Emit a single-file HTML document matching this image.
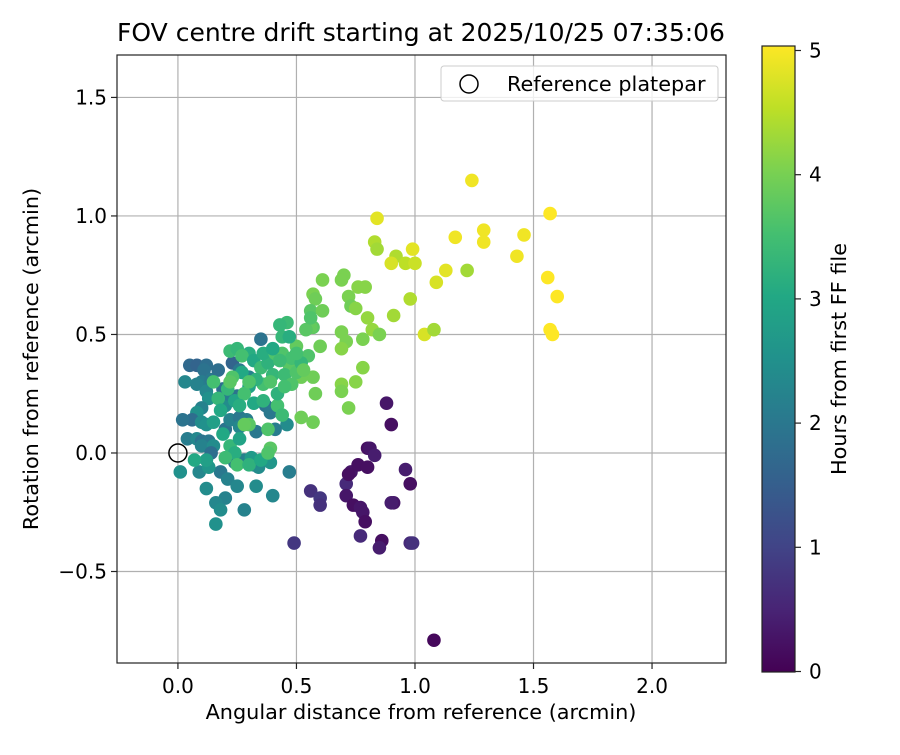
<!DOCTYPE html>
<html><head><meta charset="utf-8"><style>
body{margin:0;background:#fff}
svg text{font-family:"DejaVu Sans","Liberation Sans",sans-serif;fill:#000}
</style></head><body>
<svg id="chart" width="900" height="750" xmlns="http://www.w3.org/2000/svg">
<defs><linearGradient id="vir" x1="0" y1="1" x2="0" y2="0">
<stop offset="0" stop-color="#440154"/><stop offset="0.1" stop-color="#482475"/><stop offset="0.2" stop-color="#414487"/><stop offset="0.3" stop-color="#355f8d"/><stop offset="0.4" stop-color="#2a788e"/><stop offset="0.5" stop-color="#21918c"/><stop offset="0.6" stop-color="#22a884"/><stop offset="0.7" stop-color="#44bf70"/><stop offset="0.8" stop-color="#7ad151"/><stop offset="0.9" stop-color="#bddf26"/><stop offset="1" stop-color="#fde725"/></linearGradient></defs>
<text x="421" y="41" font-size="25" text-anchor="middle">FOV centre drift starting at 2025/10/25 07:35:06</text>
<g id="grid"></g>
<g id="points"></g>
<rect x="117" y="55" width="609" height="608" fill="none" stroke="#222" stroke-width="1.2"/>
<g id="ticks"></g>
<text x="421" y="719" font-size="20.8" text-anchor="middle">Angular distance from reference (arcmin)</text>
<text transform="translate(38,359) rotate(-90)" font-size="20.8" text-anchor="middle">Rotation from reference (arcmin)</text>
<g>
<rect x="441" y="66" width="277" height="35" rx="3" fill="#fff" fill-opacity="0.8" stroke="#ccc"/>
<circle cx="469" cy="84" r="9" fill="none" stroke="#000" stroke-width="1.5"/>
<text x="507" y="91" font-size="20.8">Reference platepar</text>
</g>
<rect x="762" y="46" width="33" height="626" fill="url(#vir)" stroke="#222" stroke-width="1.2"/>
<g id="cbticks"></g>
<text transform="translate(846,359) rotate(-90)" font-size="20.8" text-anchor="middle">Hours from first FF file</text>
</svg>
<script>
const xTicks=[0,0.5,1.0,1.5,2.0];
const xTickLabels=["0.0","0.5","1.0","1.5","2.0"];
const yTicks=[-0.5,0,0.5,1.0,1.5];
const yTickLabels=["\u22120.5","0.0","0.5","1.0","1.5"];
const cbTicks=[0,1,2,3,4,5];
const refX=[0],refY=[0];
const ptX=[1.24,1.57,0.84,1.29,1.46,1.17,1.29,0.83,0.84,0.99,0.92,0.96,0.90,1.00,1.43,1.13,1.22,1.56,1.09,1.60,0.98,1.57,1.58,1.04,1.08,0.91,
0.70,0.69,0.61,0.57,0.58,0.76,0.79,0.72,0.73,0.75,0.80,0.56,0.61,0.82,0.69,0.78,0.85,0.71,0.69,0.57,0.56,0.54,0.60,0.55,0.50,0.78,0.69,0.69,0.75,0.57,0.58,0.72,0.52,0.57,0.52,
0.05,0.08,0.12,0.11,0.03,0.10,0.08,0.14,0.12,0.13,0.10,0.08,0.06,0.02,0.10,0.12,0.04,0.08,0.10,0.13,0.10,0.15,0.14,0.20,0.22,0.26,0.20,0.21,0.19,0.17,0.23,0.26,0.30,0.25,0.29,0.26,0.33,0.32,0.28,0.24,0.18,0.21,0.01,0.09,0.13,0.12,0.20,0.16,0.18,0.25,0.28,0.16,0.33,0.40,0.47,0.39,0.34,0.31,0.46,0.41,0.37,0.39,
0.22,0.25,0.30,0.27,0.32,0.35,0.38,0.40,0.36,0.33,0.30,0.27,0.23,0.21,0.24,0.28,0.32,0.36,0.42,0.44,0.38,0.30,0.26,0.17,0.15,0.18,0.15,0.19,0.22,0.26,0.24,0.20,0.25,0.30,0.35,0.39,0.38,0.36,0.41,0.44,0.47,0.46,0.43,0.44,0.47,0.48,0.45,0.50,0.42,0.48,0.45,0.52,0.39,0.35,0.40,0.43,0.56,0.53,0.50,0.12,0.07,0.28,0.22,0.30,
0.49,0.56,0.60,0.60,0.73,0.76,0.71,0.71,0.74,0.77,0.78,0.79,0.77,0.80,0.81,0.83,0.80,0.88,0.90,0.96,0.98,0.91,0.90,0.86,0.85,0.98,0.99,1.08,0.72];
const ptY=[1.15,1.01,0.99,0.94,0.92,0.91,0.89,0.89,0.86,0.86,0.83,0.80,0.80,0.80,0.83,0.77,0.77,0.74,0.72,0.66,0.65,0.52,0.50,0.50,0.52,0.58,
0.75,0.73,0.73,0.67,0.65,0.70,0.70,0.66,0.62,0.61,0.57,0.60,0.60,0.52,0.51,0.48,0.50,0.47,0.44,0.53,0.53,0.52,0.45,0.41,0.45,0.36,0.29,0.26,0.30,0.32,0.25,0.19,0.32,0.13,0.15,
0.37,0.37,0.37,0.35,0.30,0.30,0.29,0.31,0.26,0.23,0.19,0.17,0.14,0.14,0.13,0.12,0.06,0.06,0.05,0.05,0.03,0.03,0.00,0.10,0.14,0.15,0.20,0.25,0.27,0.35,0.38,0.35,0.32,0.24,0.14,0.11,0.09,-0.05,-0.03,-0.04,-0.08,-0.11,-0.08,-0.08,-0.06,-0.15,-0.19,-0.21,-0.24,-0.14,-0.24,-0.30,-0.14,-0.18,-0.08,-0.04,-0.06,-0.02,0.12,0.10,0.20,0.17,
0.43,0.44,0.42,0.41,0.39,0.36,0.38,0.33,0.29,0.31,0.28,0.34,0.32,0.27,0.22,0.25,0.21,0.22,0.20,0.16,0.10,0.12,0.20,0.23,0.30,0.18,0.13,0.08,0.03,0.06,0.00,-0.02,-0.05,-0.05,-0.03,0.02,0.00,0.42,0.42,0.49,0.49,0.55,0.54,0.42,0.37,0.40,0.33,0.34,0.25,0.29,0.28,0.38,0.30,0.48,0.44,0.39,0.57,0.35,0.42,-0.03,-0.03,0.12,0.30,0.30,
-0.38,-0.16,-0.19,-0.22,-0.08,-0.05,-0.13,-0.18,-0.22,-0.23,-0.25,-0.29,-0.35,0.02,0.02,-0.01,-0.06,0.21,0.12,-0.07,-0.13,-0.21,-0.21,-0.37,-0.40,-0.38,-0.38,-0.79,-0.09];
const ptHours=[4.9,5,4.8,4.9,4.9,4.9,4.9,4.4,4.3,4.8,4.4,4.5,4.7,4.6,4.9,4.8,4.3,5,4.7,5,4.4,5,5,4.7,4.3,4.3,
4.0,4.0,4.0,4.0,3.9,4.1,4.1,4.0,3.9,4.1,4.2,3.7,3.9,4.2,4.0,4.0,4.0,4.0,4.1,3.7,3.8,3.7,3.9,3.6,3.8,4.1,4.1,4.0,4.1,3.9,3.9,4.0,3.9,3.9,3.9,
1.7,1.6,1.8,1.9,2.3,2.1,2.2,2.0,2.3,2.5,2.2,2.5,1.8,1.9,2.4,2.5,2.1,2.3,1.9,2.0,2.2,2.4,1.8,1.9,2.2,2.0,2.4,2.1,1.8,1.8,1.6,2.0,2.2,1.9,2.1,2.3,2.0,2.1,2.2,1.9,2.0,2.2,2.5,2.3,2.6,2.4,2.2,2.3,2.4,2.3,2.2,2.5,2.4,2.3,2.1,2.6,2.4,2.7,2.4,2.1,1.9,2.0,
3.4,3.3,3.1,3.5,3.0,3.4,3.2,3.3,3.5,3.2,2.9,3.0,3.6,3.3,2.9,3.5,3.0,3.2,3.5,3.4,3.6,3.7,3.1,3.3,3.5,3.0,2.8,3.0,3.3,2.9,3.1,3.4,3.5,3.2,3.0,3.7,3.6,3.1,3.6,3.3,3.1,3.4,3.3,3.6,3.7,3.5,3.4,3.6,3.2,3.6,3.5,3.3,3.6,1.9,3.0,3.4,3.6,3.8,3.5,2.8,3.0,3.8,3.7,3.6,
0.8,0.7,0.8,0.7,0.3,0.2,0.6,0.3,0.2,0.3,0.3,0.2,0.6,0.2,0.3,0.4,0.2,0.3,0.2,0.4,0.2,0.3,0.4,0.2,0.4,0.6,0.7,0.1,0.2];
const NS="http://www.w3.org/2000/svg";
const X0=117,X1=726,Y0=55,Y1=663,xmin=-0.257,xmax=2.312,ymin=-0.886,ymax=1.679;
const sx=v=>X0+(v-xmin)/(xmax-xmin)*(X1-X0);
const sy=v=>Y1-(v-ymin)/(ymax-ymin)*(Y1-Y0);
const cy=v=>671.5-v/5*621;
const stops=["#440154","#482475","#414487","#355f8d","#2a788e","#21918c","#22a884","#44bf70","#7ad151","#bddf26","#fde725"].map(h=>[1,3,5].map(i=>parseInt(h.substr(i,2),16)));
function vir(t){t=Math.max(0,Math.min(1,t))*10;const i=Math.min(9,Math.floor(t)),f=t-i;const a=stops[i],b=stops[i+1];return "rgb("+a.map((c,k)=>Math.round(c+(b[k]-c)*f)).join(",")+")";}
function mk(tag,attrs,parent){const e=document.createElementNS(NS,tag);for(const k in attrs)e.setAttribute(k,attrs[k]);parent.appendChild(e);return e;}
const grid=document.getElementById('grid'),ticks=document.getElementById('ticks'),pts=document.getElementById('points'),cbt=document.getElementById('cbticks');
xTicks.forEach((v,i)=>{
 const g=mk('line',{x1:sx(v),x2:sx(v),y1:Y0,y2:Y1,stroke:'#b0b0b0','stroke-width':1.2},grid);
 
 
 const t=mk('line',{x1:sx(v),x2:sx(v),y1:Y1,y2:Y1+6,stroke:'#222','stroke-width':1.2},ticks);
 
 
 const l=mk('text',{x:sx(v),y:Y1+30,'font-size':20,'text-anchor':'middle'},ticks);l.textContent=xTickLabels[i];
 
 
});
yTicks.forEach((v,i)=>{
 const g=mk('line',{x1:X0,x2:X1,y1:sy(v),y2:sy(v),stroke:'#b0b0b0','stroke-width':1.2},grid);
 
 
 const t=mk('line',{x1:X0-6,x2:X0,y1:sy(v),y2:sy(v),stroke:'#222','stroke-width':1.2},ticks);
 
 
 const l=mk('text',{x:X0-10,y:sy(v)+7,'font-size':20,'text-anchor':'end'},ticks);l.textContent=yTickLabels[i];
 
 
});
ptX.forEach((v,i)=>{
 const c=mk('circle',{cx:sx(v),cy:sy(ptY[i]),r:6.8,fill:vir(ptHours[i]/5)},pts);
 
 
});
refX.forEach((v,i)=>{
 const c=mk('circle',{cx:sx(v),cy:sy(refY[i]),r:9,fill:'none',stroke:'#000','stroke-width':1.5},pts);
 
 
});
cbTicks.forEach(v=>{
 const t=mk('line',{x1:795,x2:801,y1:cy(v),y2:cy(v),stroke:'#222','stroke-width':1.2},cbt);
 
 
 const l=mk('text',{x:809,y:cy(v)+7,'font-size':20},cbt);l.textContent=String(v);
 
 
});
</script>
</body></html>
